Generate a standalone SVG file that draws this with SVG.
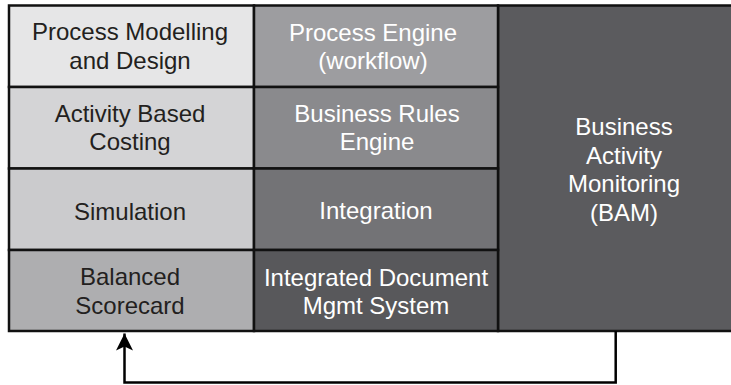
<svg xmlns="http://www.w3.org/2000/svg" width="731" height="385" viewBox="0 0 731 385">
<style>
.cell{stroke:#111;stroke-width:2.5}
.t{font-family:"Liberation Sans",Arial,Helvetica,sans-serif;font-size:24px;text-anchor:middle}
.dk{fill:#231f20}
.lt{fill:#ffffff}
.conn{fill:none;stroke:#000;stroke-width:2.5}
</style>
<defs>
<marker id="ah" markerUnits="userSpaceOnUse" markerWidth="18" markerHeight="18" viewBox="0 0 18 18" refX="17" refY="9" orient="auto">
<path d="M0,0.5 L17,9 L0,17.5 L4,9 Z" fill="#000"/>
</marker>
</defs>
<rect width="731" height="385" fill="#fff"/>
<g id="n-bam">
<rect class="cell" x="498" y="5.5" width="240" height="325.5" fill="#5b5b5e"/>
<text class="t lt" x="624" y="135">Business</text>
<text class="t lt" x="624" y="163.5">Activity</text>
<text class="t lt" x="624" y="192">Monitoring</text>
<text class="t lt" x="624" y="220.5">(BAM)</text>
</g>
<g id="n-pmd">
<rect class="cell" x="9" y="5.5" width="245" height="81.5" fill="#e6e6e7"/>
<text class="t dk" x="130" y="40">Process Modelling</text>
<text class="t dk" x="130" y="68.5">and Design</text>
</g>
<g id="n-abc">
<rect class="cell" x="9" y="87" width="245" height="81.5" fill="#d4d4d6"/>
<text class="t dk" x="130" y="121.5">Activity Based</text>
<text class="t dk" x="130" y="150">Costing</text>
</g>
<g id="n-sim">
<rect class="cell" x="9" y="168.5" width="245" height="81.5" fill="#cbcbcd"/>
<text class="t dk" x="130" y="220">Simulation</text>
</g>
<g id="n-bsc">
<rect class="cell" x="9" y="250" width="245" height="81" fill="#aeaeb0"/>
<text class="t dk" x="130" y="285">Balanced</text>
<text class="t dk" x="130" y="314">Scorecard</text>
</g>
<g id="n-pe">
<rect class="cell" x="254" y="5.5" width="244" height="81.5" fill="#9d9da0"/>
<text class="t lt" x="373" y="40.5">Process Engine</text>
<text class="t lt" x="373" y="69">(workflow)</text>
</g>
<g id="n-bre">
<rect class="cell" x="254" y="87" width="244" height="81.5" fill="#8a8a8d"/>
<text class="t lt" x="377" y="121.5">Business Rules</text>
<text class="t lt" x="377" y="150">Engine</text>
</g>
<g id="n-int">
<rect class="cell" x="254" y="168.5" width="244" height="81.5" fill="#737376"/>
<text class="t lt" x="376" y="219">Integration</text>
</g>
<g id="n-idms">
<rect class="cell" x="254" y="250" width="244" height="81" fill="#58585b"/>
<text class="t lt" x="376" y="286">Integrated Document</text>
<text class="t lt" x="376" y="314">Mgmt System</text>
</g>
<g id="connectors">
<path class="conn" d="M615.7,331 L615.7,382.5 L124.5,382.5 L124.5,333.5" marker-end="url(#ah)"/>
</g>
</svg>
